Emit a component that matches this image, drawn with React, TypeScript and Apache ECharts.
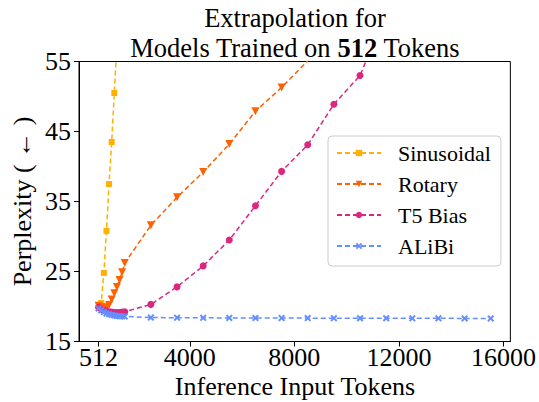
import React, { useEffect, useRef } from "react";
import * as echarts from "echarts";

// Inference input lengths (tokens)
const tokens = [
  512, 612, 712, 812, 912, 1012, 1112, 1212, 1312, 1412, 1512,
  2512, 3512, 4512, 5512, 6512, 7512, 8512, 9512, 10512, 11512, 12512, 13512, 14512, 15512,
];
// Perplexity values, aligned with tokens (series stop once far above the axis limit)
const sinusoidal = [20.05, 20.5, 24.8, 30.8, 37.5, 43.5, 50.5, 57.5];
const rotary = [
  20.1, 19.9, 19.8, 19.9, 20.2, 21.0, 21.9, 22.8, 23.8, 24.9, 26.2,
  31.6, 35.6, 39.2, 43.2, 47.9, 51.3, 55.1, 58.9,
];
const t5Bias = [
  19.9, 19.6, 19.45, 19.35, 19.25, 19.2, 19.15, 19.15, 19.15, 19.2, 19.25,
  20.3, 22.8, 25.8, 29.5, 34.4, 39.3, 43.1, 48.9, 53.0, 62.0,
];
const alibi = [
  19.73, 19.45, 19.2, 19.0, 18.9, 18.8, 18.72, 18.66, 18.62, 18.6, 18.58,
  18.42, 18.4, 18.38, 18.37, 18.36, 18.35, 18.34, 18.33, 18.32, 18.32, 18.31, 18.31, 18.3, 18.3,
];
const seriesNames = ["Sinusoidal", "Rotary", "T5 Bias", "ALiBi"];
const xTicks = [512, 4000, 8000, 12000, 16000];
const yMin = 15;
const yMax = 55;
const yStep = 10;

const FONT = "Liberation Serif";
const COLORS = ["#FFB000", "#FE6100", "#DC267F", "#648FFF"];
const X_PATH = "path://M0,2L2,0L5,3L8,0L10,2L7,5L10,8L8,10L5,7L2,10L0,8L3,5Z";

export default function App() {
  const ref = useRef<HTMLDivElement>(null);

  useEffect(() => {
    if (!ref.current) return;
    const chart = echarts.init(ref.current, undefined, { renderer: "svg" });
    const values = [sinusoidal, rotary, t5Bias, alibi];
    const symbols = ["rect", "triangle", "circle", X_PATH];
    const sizes = [6, 8, 7, 7];
    const rotations = [0, 180, 0, 0];

    const series = values.map((vals, k) => ({
      name: seriesNames[k],
      type: "line",
      data: vals.map((v, i) => [tokens[i], v]),
      symbol: symbols[k],
      symbolSize: sizes[k],
      symbolRotate: rotations[k],
      showAllSymbol: true,
      clip: true,
      z: 2 + k,
      lineStyle: { color: COLORS[k], width: 1.5, type: [5, 3] },
      itemStyle: { color: COLORS[k], borderWidth: 0 },
      emphasis: { disabled: true },
    }));

    const plotLeft = 79;
    const plotTop = 61.5;
    const plotW = 432;
    const plotH = 280;
    const cx = plotLeft + plotW / 2;

    chart.setOption({
      animation: false,
      textStyle: { fontFamily: FONT, color: "#000" },
      grid: {
        left: plotLeft,
        top: plotTop,
        width: plotW,
        height: plotH,
        show: true,
        borderColor: "#000",
        borderWidth: 1,
        backgroundColor: "transparent",
      },
      xAxis: {
        type: "value",
        min: -238,
        max: 16262,
        axisLine: { show: true, onZero: false, lineStyle: { color: "#000", width: 1 } },
        axisTick: { show: true, customValues: xTicks, length: 5, lineStyle: { color: "#000" } },
        axisLabel: {
          customValues: xTicks,
          formatter: (v: number) => String(v),
          fontFamily: FONT,
          fontSize: 26,
          color: "#000",
          margin: 3,
        },
        splitLine: { show: false },
      },
      yAxis: {
        type: "value",
        min: yMin,
        max: yMax,
        interval: yStep,
        axisLine: { show: true, onZero: false, lineStyle: { color: "#000", width: 1 } },
        axisTick: { show: true, length: 5, lineStyle: { color: "#000" } },
        axisLabel: {
          fontFamily: FONT,
          fontSize: 26,
          color: "#000",
          margin: 8,
        },
        splitLine: { show: false },
      },
      legend: {
        data: seriesNames,
        orient: "vertical",
        left: 328,
        top: 136,
        itemWidth: 44,
        itemHeight: 8,
        itemGap: 9,
        padding: [6, 10, 9, 8],
        borderColor: "#cccccc",
        borderWidth: 1,
        borderRadius: 4,
        backgroundColor: "rgba(255,255,255,0.8)",
        textStyle: {
          fontFamily: FONT,
          fontSize: 22,
          lineHeight: 22,
          color: "#000",
          padding: [0, 0, 0, 12],
        },
        selectedMode: false,
      },
      graphic: [
        {
          type: "text",
          x: cx,
          y: 18,
          style: {
            text: "Extrapolation for",
            fontFamily: FONT,
            fontSize: 26.5,
            fill: "#000",
            textAlign: "center",
            textVerticalAlign: "middle",
          },
        },
        {
          type: "text",
          x: cx,
          y: 48,
          style: {
            text: "Models Trained on {b|512} Tokens",
            fontFamily: FONT,
            fontSize: 26.5,
            fill: "#000",
            textAlign: "center",
            textVerticalAlign: "middle",
            rich: {
              b: { fontFamily: FONT, fontSize: 26.5, fontWeight: "bold", fill: "#000" },
            },
          },
        },
        {
          type: "text",
          x: cx,
          y: 386,
          style: {
            text: "Inference Input Tokens",
            fontFamily: FONT,
            fontSize: 26,
            fill: "#000",
            textAlign: "center",
            textVerticalAlign: "middle",
          },
        },
        {
          type: "text",
          x: 22,
          y: plotTop + plotH / 2,
          rotation: Math.PI / 2,
          style: {
            text: "Perplexity ( ← )",
            fontFamily: FONT,
            fontSize: 26,
            fill: "#000",
            textAlign: "center",
            textVerticalAlign: "middle",
          },
        },
      ],
      series,
    });

    return () => chart.dispose();
  }, []);

  return (
    <div
      ref={ref}
      style={{ position: "fixed", left: 0, top: 0, width: 539, height: 402, background: "#fff" }}
    />
  );
}
